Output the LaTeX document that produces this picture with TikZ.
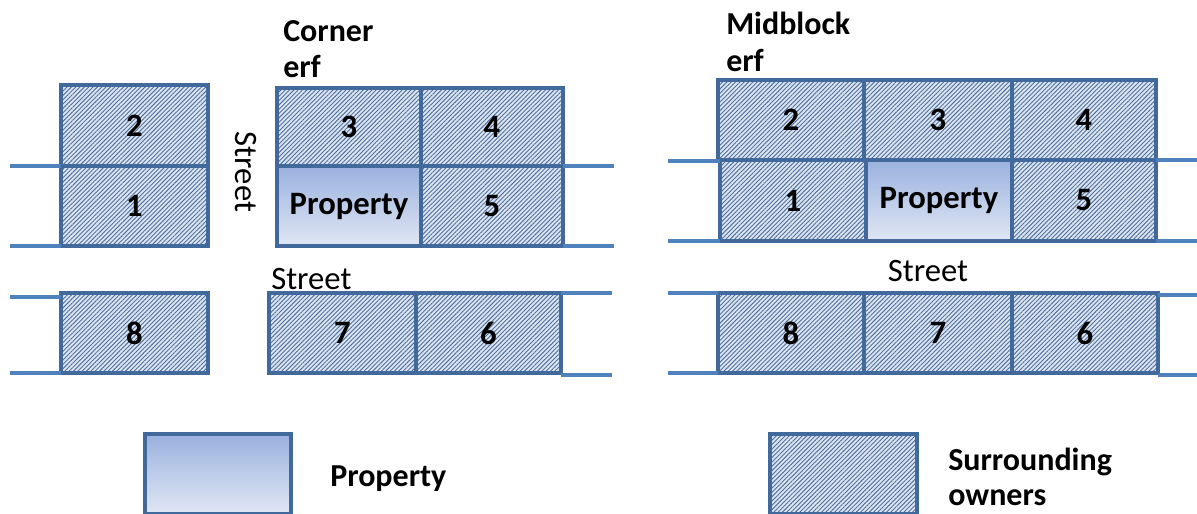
\documentclass[tikz,border=0pt]{standalone}
\usepackage{fontspec}
\setmainfont{Carlito}
\usetikzlibrary{patterns.meta}
\definecolor{bord}{HTML}{41699B}
\definecolor{strt}{HTML}{4F81BD}
\definecolor{hbg}{HTML}{DCE5F0}
\definecolor{hln}{HTML}{5070A0}
\definecolor{ptop}{HTML}{9AB1DE}
\definecolor{pbot}{HTML}{E0E7F4}
\begin{document}
\begin{tikzpicture}[x=0.75pt,y=-0.75pt,
  lot/.style={draw=bord, line width=2.8pt, inner sep=0pt, outer sep=0pt,
    font=\fontsize{24.5}{28}\selectfont\bfseries},
  own/.style={lot, preaction={fill=hbg},
    pattern={Lines[angle=45,distance=2.3pt,line width=0.7pt]}, pattern color=hln},
  prop/.style={lot, top color=ptop, bottom color=pbot},
  strline/.style={draw=strt, line width=2.8pt},
  lbl/.style={inner sep=0pt, font=\fontsize{24}{27.5}\selectfont\bfseries, align=left},
  stl/.style={inner sep=0pt, font=\fontsize{24.5}{28}\selectfont}]
\useasboundingbox (0,0) rectangle (1197,514);
\fill[white] (0,0) rectangle (1197,514);
% ---------- left: corner erf ----------
\node[own, minimum width=110.25pt, minimum height=60.75pt] (L2) at (134.5,125.5) {2};
\node[own, minimum width=110.25pt, minimum height=60pt] (L1) at (134.5,206) {1};
\node[own, minimum width=108pt, minimum height=58.5pt] (L3) at (349,127) {3};
\node[own, minimum width=106.5pt, minimum height=58.5pt] (L4) at (492,127) {4};
\node[prop, minimum width=108pt, minimum height=60pt] (LP) at (349,206) {Property};
\node[own, minimum width=106.5pt, minimum height=60pt] (L5) at (492,206) {5};
\node[own, minimum width=110.25pt, minimum height=60pt] (L8) at (134.5,333) {8};
\node[own, minimum width=110.25pt, minimum height=60pt] (L7) at (342.5,333) {7};
\node[own, minimum width=108.75pt, minimum height=60pt] (L6) at (488.5,333) {6};
\coordinate (la1) at (10,166);
\coordinate (la2) at (10,246);
\coordinate (lb1) at (614,166);
\coordinate (lb2) at (614,246);
\coordinate (lc1) at (10,297);
\coordinate (lc2) at (10,373);
\coordinate (ld1) at (612,293);
\coordinate (ld2) at (612,375);
\draw[strline] (la1) -- (L1.north west);
\draw[strline] (la2) -- (L1.south west);
\draw[strline] (L5.north east) -- (lb1);
\draw[strline] (L5.south east) -- (lb2);
\draw[strline] (lc1) -- (L8.west |- lc1);
\draw[strline] (lc2) -- (L8.south west);
\draw[strline] (L6.north east) -- (ld1);
\draw[strline] (L6.south east |- ld2) -- (ld2);
\node[lbl, anchor=north west] (cornerlbl) at (283,20) {Corner\\erf};
\node[stl, rotate=-90] (streetv) at (246,172) {Street};
\node[stl, anchor=west] (streeth) at (271,279) {Street};
% ---------- right: midblock erf ----------
\node[own, minimum width=109.5pt, minimum height=60pt] (R2) at (791,120) {2};
\node[own, minimum width=111pt, minimum height=60pt] (R3) at (938,120) {3};
\node[own, minimum width=108pt, minimum height=60pt] (R4) at (1084,120) {4};
\node[own, minimum width=109.5pt, minimum height=60.75pt] (R1) at (793,200.5) {1};
\node[prop, minimum width=109.5pt, minimum height=60.75pt] (RP) at (939,200.5) {Property};
\node[own, minimum width=108pt, minimum height=60.75pt] (R5) at (1084,200.5) {5};
\node[own, minimum width=109.5pt, minimum height=60pt] (R8) at (791,333) {8};
\node[own, minimum width=111pt, minimum height=60pt] (R7) at (938,333) {7};
\node[own, minimum width=109.5pt, minimum height=60pt] (R6) at (1085,333) {6};
\coordinate (ra1) at (668,161);
\coordinate (ra2) at (668,241);
\coordinate (rb1) at (1197,160);
\coordinate (rb2) at (1197,241);
\coordinate (rc1) at (668,293);
\coordinate (rc2) at (668,373);
\coordinate (rd1) at (1197,295);
\coordinate (rd2) at (1197,375);
\draw[strline] (ra1) -- (R1.west |- ra1);
\draw[strline] (ra2) -- (R1.south west);
\draw[strline] (R5.north east) -- (rb1);
\draw[strline] (R5.south east) -- (rb2);
\draw[strline] (rc1) -- (R8.north west);
\draw[strline] (rc2) -- (R8.south west);
\draw[strline] (R6.east |- rd1) -- (rd1);
\draw[strline] (R6.east |- rd2) -- (rd2);
\node[lbl, anchor=north west] (midlbl) at (726,12) {Midblock\\erf};
\node[stl] (streetr) at (928,271) {Street};
% ---------- legend ----------
\node[prop, minimum width=109.5pt, minimum height=60pt] (legP) at (218,474) {};
\node[lbl, anchor=west] (legPt) at (330,479) {Property};
\node[own, minimum width=110.25pt, minimum height=60pt] (legS) at (843.5,474) {};
\node[lbl, anchor=west, font=\fontsize{24}{26.5}\selectfont\bfseries] (legSt) at (948,477) {Surrounding\\owners};
\end{tikzpicture}
\end{document}
